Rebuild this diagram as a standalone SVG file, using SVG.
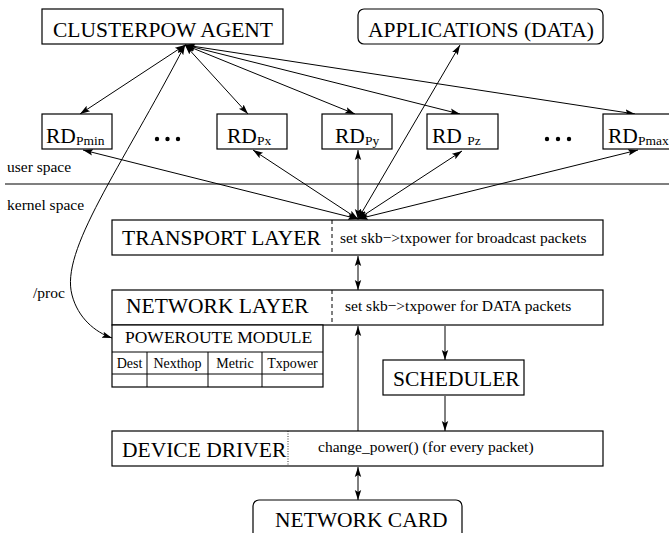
<svg xmlns="http://www.w3.org/2000/svg" width="669" height="533" viewBox="0 0 669 533">
<style>
  .box{fill:#fff;stroke:#000;stroke-width:1.2}
  .t{font-family:"Liberation Serif","Times New Roman",serif;fill:#000}
  .big{font-size:21.5px}
  .med{font-size:17.5px}
  .sm{font-size:15.5px}
  .xs{font-size:14px}
  .sub{font-size:13.5px}
  .ln{fill:none;stroke:#000;stroke-width:1}
  .dash{stroke:#000;stroke-width:1;stroke-dasharray:4,3}
  .dot{stroke:#000;stroke-width:0.8;stroke-dasharray:1,1.5}
</style>
<defs>
  <marker id="ah" viewBox="0 0 10 10" refX="10" refY="5" markerWidth="10" markerHeight="10" markerUnits="userSpaceOnUse" orient="auto-start-reverse">
    <path d="M0,1.8 L10,5 L0,8.2 L2,5 Z" fill="#000"/>
  </marker>
</defs>
<rect width="669" height="533" fill="#fff"/>

<g id="space-divider">
  <line x1="5" y1="184" x2="669" y2="184" stroke="#555" stroke-width="1.4"/>
  <text class="t sm" x="7" y="172">user space</text>
  <text class="t sm" x="7" y="210">kernel space</text>
  <text class="t sm" x="33" y="298">/proc</text>
</g>

<g id="connectors">
  <!-- agent to RD boxes -->
  <line class="ln" x1="185" y1="45" x2="80" y2="114" marker-start="url(#ah)" marker-end="url(#ah)"/>
  <line class="ln" x1="185" y1="45" x2="248" y2="114" marker-start="url(#ah)" marker-end="url(#ah)"/>
  <line class="ln" x1="185" y1="45" x2="355" y2="114" marker-start="url(#ah)" marker-end="url(#ah)"/>
  <line class="ln" x1="185" y1="45" x2="460" y2="114" marker-start="url(#ah)" marker-end="url(#ah)"/>
  <line class="ln" x1="185" y1="45" x2="635" y2="114" marker-start="url(#ah)" marker-end="url(#ah)"/>
  <!-- /proc curve -->
  <path class="ln" d="M185,45 C120,170 60,250 72,295 C78,318 95,332 112,338" marker-start="url(#ah)" marker-end="url(#ah)"/>
  <!-- transport convergence -->
  <line class="ln" x1="358" y1="219" x2="83" y2="150" marker-start="url(#ah)" marker-end="url(#ah)"/>
  <line class="ln" x1="358" y1="219" x2="253" y2="150" marker-start="url(#ah)" marker-end="url(#ah)"/>
  <line class="ln" x1="358" y1="219" x2="358" y2="150" marker-start="url(#ah)" marker-end="url(#ah)"/>
  <line class="ln" x1="358" y1="219" x2="460" y2="45" marker-start="url(#ah)" marker-end="url(#ah)"/>
  <line class="ln" x1="358" y1="219" x2="462" y2="151" marker-start="url(#ah)" marker-end="url(#ah)"/>
  <line class="ln" x1="358" y1="219" x2="638" y2="150" marker-start="url(#ah)" marker-end="url(#ah)"/>
  <!-- vertical stack -->
  <line class="ln" x1="358" y1="256" x2="358" y2="290" marker-start="url(#ah)" marker-end="url(#ah)"/>
  <line class="ln" x1="358" y1="431" x2="358" y2="326" marker-end="url(#ah)"/>
  <line class="ln" x1="445" y1="326" x2="445" y2="360" marker-end="url(#ah)"/>
  <line class="ln" x1="445" y1="396" x2="445" y2="431" marker-end="url(#ah)"/>
  <line class="ln" x1="358" y1="467" x2="358" y2="500" marker-start="url(#ah)" marker-end="url(#ah)"/>
</g>

<g id="clusterpow-agent">
  <rect class="box" x="42" y="9" width="241" height="35"/>
  <text class="t big" x="53" y="37">CLUSTERPOW AGENT</text>
</g>

<g id="applications">
  <rect class="box" x="358" y="9" width="245" height="35" rx="6"/>
  <text class="t big" x="368" y="37">APPLICATIONS (DATA)</text>
</g>

<g id="rd-pmin">
  <rect class="box" x="42" y="114" width="70" height="35"/>
  <text class="t big" x="46" y="143">RD<tspan class="sub" dy="2">Pmin</tspan></text>
</g>
<g id="dots-1">
  <circle cx="157" cy="139" r="2.2"/><circle cx="167.5" cy="139" r="2.2"/><circle cx="178" cy="139" r="2.2"/>
</g>
<g id="rd-px">
  <rect class="box" x="217" y="114" width="70" height="35"/>
  <text class="t big" x="227" y="143">RD<tspan class="sub" dy="2">Px</tspan></text>
</g>
<g id="rd-py">
  <rect class="box" x="322" y="114" width="70" height="35"/>
  <text class="t big" x="335" y="143">RD<tspan class="sub" dy="2">Py</tspan></text>
</g>
<g id="rd-pz">
  <rect class="box" x="427" y="114" width="71" height="35"/>
  <text class="t big" x="432" y="143">RD <tspan class="sub" dy="2">Pz</tspan></text>
</g>
<g id="dots-2">
  <circle cx="547" cy="139" r="2.2"/><circle cx="558" cy="139" r="2.2"/><circle cx="569" cy="139" r="2.2"/>
</g>
<g id="rd-pmax">
  <rect class="box" x="603" y="114" width="70" height="35"/>
  <text class="t big" x="608" y="143">RD<tspan class="sub" dy="2">Pmax</tspan></text>
</g>

<g id="transport-layer">
  <rect class="box" x="112" y="220" width="491" height="35"/>
  <line class="dash" x1="332" y1="220" x2="332" y2="255"/>
  <text class="t big" x="122" y="245">TRANSPORT LAYER</text>
  <text class="t sm" x="340" y="243">set skb−&gt;txpower for broadcast packets</text>
</g>

<g id="network-layer">
  <rect class="box" x="112" y="290" width="491" height="35"/>
  <line class="dash" x1="332" y1="290" x2="332" y2="325"/>
  <text class="t big" x="126" y="313">NETWORK LAYER</text>
  <text class="t sm" x="345" y="311">set skb−&gt;txpower for DATA packets</text>
</g>

<g id="poweroute-module">
  <rect class="box" x="112" y="325" width="211" height="62"/>
  <line class="ln" x1="112" y1="352" x2="323" y2="352"/>
  <line class="ln" x1="112" y1="374" x2="323" y2="374"/>
  <line class="ln" x1="147" y1="352" x2="147" y2="387"/>
  <line class="ln" x1="208" y1="352" x2="208" y2="387"/>
  <line class="ln" x1="262" y1="352" x2="262" y2="387"/>
  <text class="t med" x="125" y="343">POWEROUTE MODULE</text>
  <g class="t xs" text-anchor="middle">
    <text x="129.5" y="368">Dest</text>
    <text x="177.5" y="368">Nexthop</text>
    <text x="235" y="368">Metric</text>
    <text x="292.5" y="368">Txpower</text>
  </g>
</g>

<g id="scheduler">
  <rect class="box" x="383" y="360" width="141" height="35"/>
  <text class="t big" x="393" y="386">SCHEDULER</text>
</g>

<g id="device-driver">
  <rect class="box" x="112" y="431" width="491" height="35"/>
  <line class="dot" x1="288" y1="431" x2="288" y2="466"/>
  <text class="t big" x="122" y="457">DEVICE DRIVER</text>
  <text class="t sm" x="318" y="452">change_power() (for every packet)</text>
</g>

<g id="network-card">
  <rect class="box" x="253" y="500" width="209" height="45" rx="6"/>
  <text class="t big" x="275" y="527">NETWORK CARD</text>
</g>
</svg>
